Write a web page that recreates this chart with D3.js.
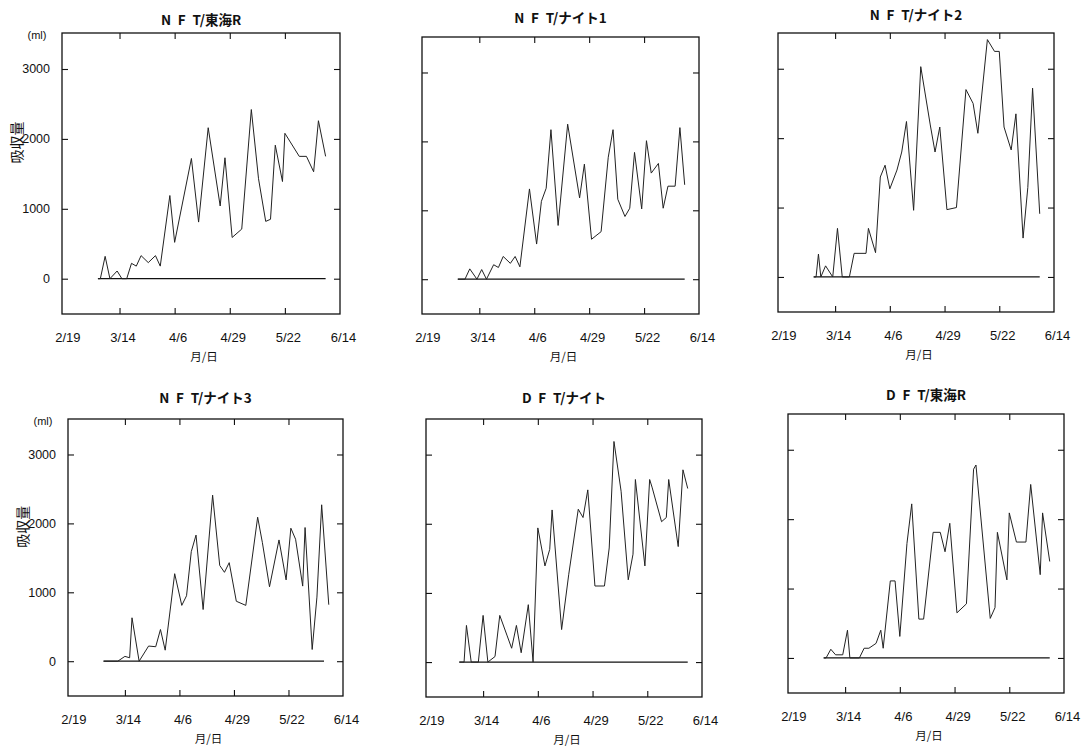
<!DOCTYPE html>
<html>
<head>
<meta charset="utf-8">
<script src="https://cdn.jsdelivr.net/npm/d3@7"></script>
<style>
  html, body { margin: 0; padding: 0; background: #fff; }
  svg { display: block; }
  text { font-family: "Liberation Sans", Arial, "Noto Sans CJK JP", sans-serif; fill: #111; }
  .cjk { font-family: "Noto Sans CJK JP", "Liberation Sans", sans-serif; }
</style>
</head>
<body>
<svg id="chart" width="1089" height="747"></svg>
<script>
// ---------- data ----------
const xTickLabels = ["2/19", "3/14", "4/6", "4/29", "5/22", "6/14"];
const xTickMarks = ["3/14", "4/6", "4/29", "5/22"];
const yTicks = [0, 1000, 2000, 3000];
const xDomain = ["2/18", "6/14"];
const yDomain = [-505, 3515];

const titles = ["N\u2002F\u2002T/東海R", "N\u2002F\u2002T/ナイト1", "N\u2002F\u2002T/ナイト2",
                "N\u2002F\u2002T/ナイト3", "D\u2002F\u2002T/ナイト", "D\u2002F\u2002T/東海R"];

const nftTokaiDates = ["3/5","3/6","3/8","3/10","3/13","3/15","3/17","3/19","3/21","3/23","3/26","3/29","3/31","4/4","4/6","4/13","4/16","4/20","4/25","4/27","4/30","5/4","5/8","5/11","5/14","5/16","5/18","5/21","5/22","5/28","5/31","6/3","6/5","6/8"];
const nftTokaiValues = [0,0,320,0,110,0,0,220,180,330,230,330,180,1190,520,1720,810,2160,1040,1730,590,710,2420,1430,820,850,1910,1390,2080,1750,1750,1530,2260,1750];
const nftTokaiZero = ["3/5","6/8"];

const nftKnight1Dates = ["3/5","3/8","3/10","3/13","3/15","3/17","3/20","3/22","3/24","3/27","3/29","3/31","4/4","4/7","4/9","4/11","4/13","4/16","4/20","4/25","4/27","4/30","5/4","5/7","5/9","5/11","5/14","5/16","5/18","5/21","5/23","5/25","5/28","5/30","6/1","6/4","6/6","6/8"];
const nftKnight1Values = [0,0,150,0,140,0,210,170,330,230,330,180,1310,510,1130,1320,2170,780,2250,1180,1670,580,690,1770,2170,1160,910,1030,1840,1020,2010,1540,1680,1030,1350,1350,2200,1370];
const nftKnight1Zero = ["3/5","6/8"];

const nftKnight2Dates = ["3/5","3/6","3/7","3/8","3/10","3/13","3/15","3/17","3/20","3/22","3/27","3/28","3/31","4/2","4/4","4/6","4/9","4/11","4/13","4/16","4/19","4/23","4/25","4/27","4/30","5/4","5/8","5/11","5/13","5/17","5/20","5/22","5/24","5/27","5/29","6/1","6/3","6/5","6/8"];
const nftKnight2Values = [0,0,330,0,160,0,700,0,0,340,340,700,350,1440,1610,1270,1540,1800,2240,960,3030,2190,1800,2160,970,1000,2700,2500,2070,3420,3250,3250,2160,1830,2350,560,1290,2720,910];
const nftKnight2Zero = ["3/5","6/8"];

const nftKnight3Dates = ["3/5","3/11","3/14","3/16","3/17","3/20","3/24","3/27","3/29","3/31","4/4","4/7","4/9","4/11","4/13","4/16","4/20","4/23","4/25","4/27","4/30","5/4","5/9","5/11","5/14","5/18","5/21","5/23","5/25","5/28","5/29","6/1","6/3","6/5","6/8"];
const nftKnight3Values = [0,0,70,50,630,0,220,210,460,160,1270,810,950,1590,1830,750,2410,1390,1290,1430,870,810,2090,1720,1080,1760,1180,1930,1770,1090,1940,170,930,2270,820];
const nftKnight3Zero = ["3/5","6/6"];

const dftKnightDates = ["3/4","3/6","3/7","3/9","3/12","3/14","3/16","3/19","3/21","3/24","3/26","3/28","3/30","4/2","4/4","4/6","4/9","4/11","4/12","4/16","4/19","4/23","4/25","4/27","4/30","5/4","5/6","5/8","5/11","5/14","5/16","5/17","5/21","5/23","5/24","5/28","5/30","5/31","6/4","6/6","6/8"];
const dftKnightValues = [0,0,530,0,0,675,0,80,675,390,200,530,135,830,0,1940,1390,1630,2200,470,1270,2210,2090,2490,1100,1100,1650,3190,2470,1190,1560,2640,1390,2640,2530,2030,2090,2640,1670,2780,2510];
const dftKnightZero = ["3/4","6/8"];

const dftTokaiDates = ["3/5","3/6","3/8","3/10","3/13","3/15","3/16","3/20","3/22","3/24","3/27","3/29","3/30","4/2","4/4","4/6","4/9","4/11","4/14","4/16","4/20","4/23","4/25","4/27","4/30","5/4","5/7","5/8","5/14","5/16","5/17","5/21","5/22","5/25","5/29","5/31","6/4","6/5","6/8"];
const dftTokaiValues = [0,0,125,45,45,400,0,0,140,140,210,400,140,1110,1110,310,1650,2220,560,560,1810,1810,1530,1940,650,780,2720,2780,570,725,1810,1125,2090,1670,1670,2500,1200,2090,1390];
const dftTokaiZero = ["3/5","6/8"];

// ---------- layout (positions of the six frames) ----------
const layout = [
  {x: 62,  y: 33,  w: 278, h: 281, titleY: 25,  yLabels: true},
  {x: 422, y: 37,  w: 277, h: 277, titleY: 23,  yLabels: false},
  {x: 778, y: 33,  w: 276, h: 279, titleY: 20,  yLabels: false},
  {x: 68,  y: 419, w: 275, h: 277, titleY: 403, yLabels: true},
  {x: 426, y: 419, w: 276, h: 278, titleY: 403, yLabels: false},
  {x: 788, y: 414, w: 276, h: 279, titleY: 400, yLabels: false}
];

const seriesDates = [nftTokaiDates, nftKnight1Dates, nftKnight2Dates, nftKnight3Dates, dftKnightDates, dftTokaiDates];
const seriesValues = [nftTokaiValues, nftKnight1Values, nftKnight2Values, nftKnight3Values, dftKnightValues, dftTokaiValues];
const seriesZero = [nftTokaiZero, nftKnight1Zero, nftKnight2Zero, nftKnight3Zero, dftKnightZero, dftTokaiZero];

const parse = d3.timeParse("%m/%d");
const fmt = d3.timeFormat("%-m/%-d");
const svg = d3.select("#chart");

layout.forEach((p, i) => {
  const g = svg.append("g").attr("transform", `translate(${p.x},${p.y})`);
  const x = d3.scaleTime().domain(xDomain.map(parse)).range([0, p.w]);
  const y = d3.scaleLinear().domain(yDomain).range([p.h, 0]);

  // inward tick marks on all four sides
  const tick = 6;
  const mk = (axis, tr) => {
    const a = g.append("g").attr("transform", tr).call(axis);
    a.select(".domain").remove();
    a.selectAll("line").attr("stroke", "#111").attr("stroke-width", 1.1);
    return a;
  };
  mk(d3.axisBottom(x).tickValues(xTickMarks.map(parse)).tickSize(-tick).tickFormat(""), `translate(0,${p.h})`);
  mk(d3.axisTop(x).tickValues(xTickMarks.map(parse)).tickSize(-tick).tickFormat(""), `translate(0,0)`);
  mk(d3.axisLeft(y).tickValues(yTicks).tickSize(-tick).tickFormat(""), `translate(0,0)`);
  mk(d3.axisRight(y).tickValues(yTicks).tickSize(-tick).tickFormat(""), `translate(${p.w},0)`);

  // x tick labels
  const xl = g.append("g").attr("transform", `translate(0,${p.h})`)
    .call(d3.axisBottom(x).tickValues(xTickLabels.map(parse)).tickSize(0).tickPadding(19).tickFormat(fmt));
  xl.select(".domain").remove();
  xl.selectAll("text").attr("font-size", 13).attr("dx", 3)
    .style("font-family", '"Liberation Sans", Arial, sans-serif').attr("fill", "#111");

  // y tick labels (left column only)
  if (p.yLabels) {
    const yl = g.append("g")
      .call(d3.axisLeft(y).tickValues(yTicks).tickSize(0).tickPadding(12).tickFormat(d3.format("d")));
    yl.select(".domain").remove();
    yl.selectAll("text").attr("font-size", 12.5)
      .style("font-family", '"Liberation Sans", Arial, sans-serif').attr("fill", "#111");
    g.append("text").attr("x", -25).attr("y", 6).attr("text-anchor", "middle")
      .attr("font-size", 11).text("(ml)");
    g.append("text").attr("class", "cjk")
      .attr("transform", `translate(${-40},${y(1950)}) rotate(-90)`)
      .attr("text-anchor", "middle").attr("font-size", 14).text("吸収量");
  }

  // frame
  g.append("rect").attr("x", 0).attr("y", 0).attr("width", p.w).attr("height", p.h)
    .attr("fill", "none").attr("stroke", "#111").attr("stroke-width", 1.3);

  // zero baseline
  const zero = seriesZero[i].map(d => ({date: parse(d), value: 0}));
  const line = d3.line().x(d => x(d.date)).y(d => y(d.value));
  g.append("path").datum(zero).attr("d", line)
    .attr("fill", "none").attr("stroke", "#111").attr("stroke-width", 1.3);

  // data line
  const data = seriesDates[i].map((d, k) => ({date: parse(d), value: seriesValues[i][k]}));
  g.append("path").datum(data).attr("d", line)
    .attr("fill", "none").attr("stroke", "#222").attr("stroke-width", 1)
    .attr("stroke-linejoin", "miter");

  // title
  svg.append("text").attr("class", "cjk")
    .attr("x", p.x + p.w / 2).attr("y", p.titleY)
    .attr("text-anchor", "middle").attr("font-size", 13.5).attr("font-weight", "bold")
    .text(titles[i]);

  // x axis title
  svg.append("text").attr("class", "cjk")
    .attr("x", p.x + p.w / 2 + 3).attr("y", p.y + p.h + 47)
    .attr("text-anchor", "middle").attr("font-size", 11.5).text("月/日");
});
</script>
</body>
</html>
